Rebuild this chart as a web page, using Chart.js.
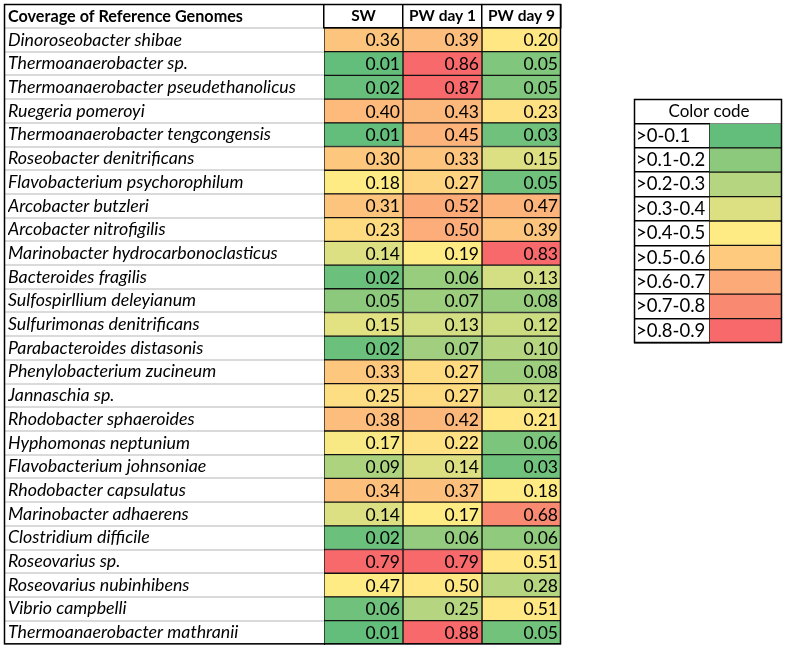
<!DOCTYPE html>
<html>
<head>
<meta charset="utf-8">
<script src="https://cdn.jsdelivr.net/npm/chart.js@4.4.1/dist/chart.umd.min.js"></script>
<style>
  body { margin: 0; background: #fff; }
  #wrap { position: relative; width: 788px; height: 658px; }
  #wrap canvas { position: absolute; left: 0; top: 0; }
</style>
</head>
<body>
<div id="wrap">
  <canvas id="legendChart" width="788" height="658"></canvas>
  <canvas id="tableChart" width="788" height="658"></canvas>
</div>
<script>
const species = [
    'Dinoroseobacter shibae', 'Thermoanaerobacter sp.', 'Thermoanaerobacter pseudethanolicus',
    'Ruegeria pomeroyi', 'Thermoanaerobacter tengcongensis', 'Roseobacter denitrificans',
    'Flavobacterium psychorophilum', 'Arcobacter butzleri', 'Arcobacter nitrofigilis',
    'Marinobacter hydrocarbonoclasticus', 'Bacteroides fragilis', 'Sulfospirllium deleyianum',
    'Sulfurimonas denitrificans', 'Parabacteroides distasonis', 'Phenylobacterium zucineum',
    'Jannaschia sp.', 'Rhodobacter sphaeroides', 'Hyphomonas neptunium',
    'Flavobacterium johnsoniae', 'Rhodobacter capsulatus', 'Marinobacter adhaerens',
    'Clostridium difficile', 'Roseovarius sp.', 'Roseovarius nubinhibens',
    'Vibrio campbelli', 'Thermoanaerobacter mathranii'
];
const columns = ['SW', 'PW day 1', 'PW day 9'];

const sw = [0.36, 0.01, 0.02, 0.40, 0.01, 0.30, 0.18, 0.31, 0.23, 0.14, 0.02, 0.05, 0.15,
    0.02, 0.33, 0.25, 0.38, 0.17, 0.09, 0.34, 0.14, 0.02, 0.79, 0.47, 0.06, 0.01];
const pwDay1 = [0.39, 0.86, 0.87, 0.43, 0.45, 0.33, 0.27, 0.52, 0.50, 0.19, 0.06, 0.07, 0.13,
    0.07, 0.27, 0.27, 0.42, 0.22, 0.14, 0.37, 0.17, 0.06, 0.79, 0.50, 0.25, 0.88];
const pwDay9 = [0.20, 0.05, 0.05, 0.23, 0.03, 0.15, 0.05, 0.47, 0.39, 0.83, 0.13, 0.08, 0.12,
    0.10, 0.08, 0.12, 0.21, 0.06, 0.03, 0.18, 0.68, 0.06, 0.51, 0.28, 0.51, 0.05];

// colour level of each cell (0 = darkest green ... 8 = red)
const shadeSW = [5.2, 0, 0.1, 5.5, 0, 5.1, 4.0, 5.2, 4.5, 3.0, 0.2, 1.0, 3.2,
    0.2, 5.1, 4.4, 5.4, 3.8, 1.8, 5.3, 3.0, 0.2, 8, 4.0, 0.3, 0];
const shadeDay1 = [5.4, 8, 8, 5.6, 5.7, 5.2, 4.7, 6.0, 5.9, 4.0, 1.3, 1.4, 2.8,
    1.5, 4.5, 4.5, 5.6, 4.3, 3.0, 5.3, 4.0, 1.2, 8, 4.1, 2.0, 8];
const shadeDay9 = [4.1, 0.7, 0.7, 4.3, 0.3, 3.0, 0.3, 5.7, 5.2, 8, 2.8, 1.3, 2.6,
    2.0, 1.4, 2.4, 4.1, 0.6, 0.3, 4.0, 7.0, 1.1, 4.1, 2.0, 4.1, 0.4];

const codeLabels = ['>0-0.1', '>0.1-0.2', '>0.2-0.3', '>0.3-0.4', '>0.4-0.5',
    '>0.5-0.6', '>0.6-0.7', '>0.7-0.8', '>0.8-0.9'];

const valueCols = [sw, pwDay1, pwDay9];
const shadeCols = [shadeSW, shadeDay1, shadeDay9];

const palette = [
    [99, 190, 123], [140, 201, 125], [181, 213, 128], [220, 224, 130], [255, 235, 132],
    [253, 202, 126], [252, 170, 120], [250, 137, 113], [248, 105, 107]
];
const FONT = 'Lato, "Open Sans", sans-serif';

function shadeColor(level) {
    const i = Math.min(Math.floor(level), palette.length - 2);
    const t = level - i;
    const a = palette[i], b = palette[i + 1];
    const c = a.map((v, k) => Math.round(v + (b[k] - v) * t));
    return `rgb(${c[0]}, ${c[1]}, ${c[2]})`;
}

const cellText = {
    id: 'cellText',
    afterDatasetsDraw(chart) {
        const ctx = chart.ctx;
        ctx.save();
        ctx.font = `17.5px ${FONT}`;
        ctx.fillStyle = '#000';
        ctx.textAlign = 'right';
        ctx.textBaseline = 'middle';
        chart.data.datasets.forEach((ds, c) => {
            chart.getDatasetMeta(c).data.forEach((bar, j) => {
                ctx.fillText(valueCols[c][j].toFixed(2), bar.x - 3, bar.y + 1);
            });
        });
        ctx.restore();
    }
};

const outline = {
    id: 'outline',
    afterDraw(chart) {
        const { ctx, chartArea } = chart;
        const y = chart.scales.y;
        const left = y.right - y.options.grid.tickLength;
        const top = chart.scales.xTop ? chart.scales.xTop.top : chart.titleBlock.top;
        ctx.save();
        ctx.strokeStyle = '#000';
        ctx.lineWidth = 1.5;
        ctx.strokeRect(left + 0.5, top + 0.5, chartArea.right - left - 1, chartArea.bottom - top - 1);
        ctx.restore();
    }
};

new Chart(document.getElementById('tableChart'), {
    type: 'bar',
    data: {
        labels: species,
        datasets: columns.map((name, c) => ({
            label: name,
            data: species.map(() => [c, c + 1]),
            backgroundColor: ctx => shadeColor(shadeCols[c][ctx.dataIndex]),
            borderColor: '#111',
            borderWidth: 1,
            borderSkipped: false,
            barPercentage: 1,
            categoryPercentage: 1,
            grouped: false
        }))
    },
    options: {
        indexAxis: 'y',
        responsive: false,
        animation: false,
        layout: { padding: { left: 8, top: 4, right: 227, bottom: 6 } },
        plugins: { legend: { display: false }, tooltip: { enabled: false } },
        scales: {
            x: { type: 'linear', min: 0, max: 3, display: false },
            xTop: {
                type: 'category',
                labels: columns,
                position: 'top',
                offset: true,
                grid: { offset: true, color: '#000', lineWidth: 1.5, tickLength: 24, drawOnChartArea: false },
                border: { color: '#000', width: 1.5 },
                ticks: { font: { family: FONT, size: 15.5, weight: 'bold' }, color: '#000', padding: -21, autoSkip: false },
                afterFit: s => { s.height = 24; }
            },
            y: {
                type: 'category',
                offset: true,
                grid: { offset: true, color: '#dadada', lineWidth: 2, tickLength: 320 },
                border: { display: true, color: '#000' },
                ticks: { crossAlign: 'far', autoSkip: false, font: { family: FONT, size: 17.8, style: 'italic' }, color: '#000' },
                afterFit: s => { s.width = 316; }
            }
        }
    },
    plugins: [cellText, outline, {
        id: 'cornerTitle',
        afterDraw(chart) {
            const ctx = chart.ctx;
            const y = chart.scales.y;
            const top = chart.scales.xTop;
            ctx.save();
            ctx.font = `bold 16.2px ${FONT}`;
            ctx.fillStyle = '#000';
            ctx.textBaseline = 'middle';
            ctx.fillText('Coverage of Reference Genomes', y.left, (top.top + top.bottom) / 2 + 1);
            ctx.restore();
        }
    }]
});

new Chart(document.getElementById('legendChart'), {
    type: 'bar',
    data: {
        labels: codeLabels,
        datasets: [{
            data: codeLabels.map(() => [0, 1]),
            backgroundColor: codeLabels.map((l, i) => shadeColor(i)),
            borderColor: '#111',
            borderWidth: 1,
            borderSkipped: false,
            barPercentage: 1,
            categoryPercentage: 1
        }]
    },
    options: {
        indexAxis: 'y',
        responsive: false,
        animation: false,
        layout: { padding: { left: 636, top: 99, right: 6, bottom: 315 } },
        plugins: {
            legend: { display: false },
            tooltip: { enabled: false },
            title: {
                display: true,
                text: 'Color code',
                color: '#000',
                font: { family: FONT, size: 17, weight: 'normal' },
                padding: { top: 2, bottom: 2 }
            }
        },
        scales: {
            x: { type: 'linear', min: 0, max: 1, display: false },
            y: {
                type: 'category',
                offset: true,
                grid: { offset: true, color: '#000', lineWidth: 1.5, tickLength: 75, drawOnChartArea: false },
                border: { display: true, color: '#000' },
                ticks: { crossAlign: 'far', autoSkip: false, font: { family: FONT, size: 18.5 }, color: '#000' },
                afterFit: s => { s.width = 73; }
            }
        }
    },
    plugins: [outline]
});
</script>
</body>
</html>
